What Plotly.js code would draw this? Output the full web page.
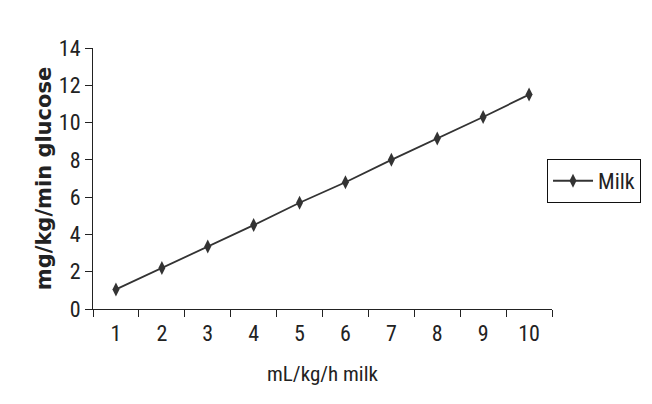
<!DOCTYPE html>
<html>
<head>
<meta charset="utf-8">
<script src="https://cdn.plot.ly/plotly-3.0.1.min.js"></script>
<style>html,body{margin:0;padding:0;background:#fff;}#chart{width:652px;height:404px;}</style>
</head>
<body>
<div id="chart"></div>
<script>
var categories = ["1","2","3","4","5","6","7","8","9","10"];
var milkGlucose = [1.05, 2.2, 3.35, 4.5, 5.7, 6.8, 8.0, 9.15, 10.3, 11.5];
var seriesName = "Milk";
var xTitle = "mL/kg/h milk";
var yTitle = "mg/kg/min glucose";

var condFont = "Roboto Condensed, Liberation Sans, Arial, sans-serif";
var tickFont = {family: condFont, size: 22, color: "#222"};

var trace = {
  x: categories,
  y: milkGlucose,
  name: seriesName,
  type: "scatter",
  mode: "lines+markers",
  line: {color: "#333", width: 1.8},
  marker: {symbol: "diamond-tall", size: 10, color: "#333"}
};

var layout = {
  width: 652, height: 404,
  margin: {l: 93, r: 99, t: 48, b: 95},
  paper_bgcolor: "#fff", plot_bgcolor: "#fff",
  showlegend: true,
  legend: {
    x: 0.987, y: 0.575, xanchor: "left", yanchor: "top",
    bordercolor: "#111", borderwidth: 1,
    itemwidth: 40,
    font: {family: condFont, size: 22, color: "#222"},
    bgcolor: "#fff"
  },
  xaxis: {
    type: "category",
    range: [-0.5, 9.5],
    tickson: "boundaries",
    ticks: "outside", ticklen: 7, tickwidth: 1, tickcolor: "#222",
    ticklabelstandoff: 5,
    showline: true, linecolor: "#222", linewidth: 1,
    showgrid: false, zeroline: false,
    tickfont: tickFont,
    title: {text: xTitle, standoff: 20, font: {family: condFont, size: 21, color: "#222"}}
  },
  yaxis: {
    range: [0, 14], dtick: 2,
    ticks: "outside", ticklen: 7, tickwidth: 1, tickcolor: "#222",
    showline: true, linecolor: "#222", linewidth: 1,
    showgrid: false, zeroline: false,
    tickfont: tickFont,
    title: {text: yTitle, standoff: 1, font: {family: "DejaVu Sans, Liberation Sans, Arial, sans-serif", size: 21, color: "#222", weight: "bold"}}
  }
};

Plotly.newPlot("chart", [trace], layout, {displayModeBar: false, staticPlot: true});
</script>
</body>
</html>
